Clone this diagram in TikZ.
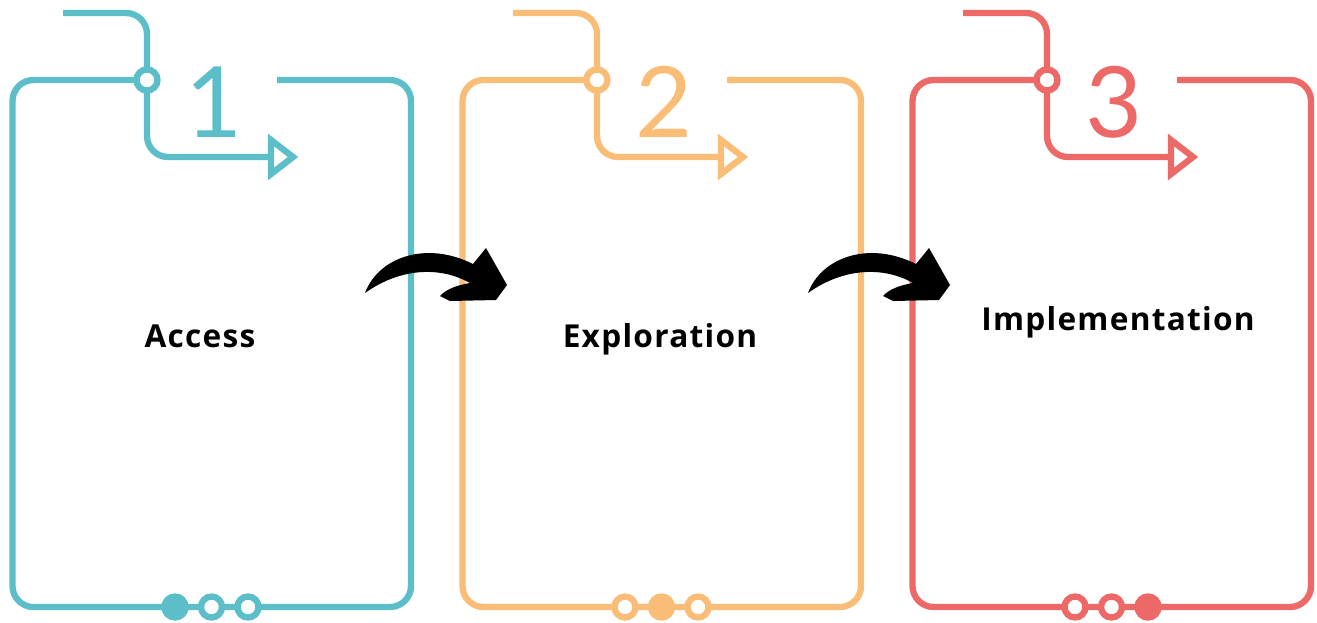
\documentclass[tikz,border=0pt]{standalone}
\usepackage{fontspec}
\setmainfont{Open Sans}
\newfontfamily\numfont{Lato}
\usetikzlibrary{calc}
\definecolor{stA}{HTML}{5BBEC9}
\definecolor{stB}{HTML}{F9BD77}
\definecolor{stC}{HTML}{EC6967}

\begin{document}
\begin{tikzpicture}[x=0.02cm,y=-0.02cm,every node/.style={inner sep=0pt},
  frame/.style={line width=3.6pt,rounded corners=0.42cm},
  dotring/.style={line width=3.6pt}]
  \useasboundingbox (0,0) rectangle (1317,622);
  \foreach \ox/\col/\num/\txt/\tx/\ty in {0/stA/1/Access/200/347,450/stB/2/Exploration/210/347,900/stC/3/Implementation/218/330}{
    \begin{scope}[shift={(\ox,0)}]
      \draw[\col,frame] (277,80) -| (411,607) -| (12.5,80) -- (147,80);
      \draw[\col,frame] (63,13) -| (147,80) |- (271,157);
      \draw[\col,line width=3.6pt,line join=miter] (271,140) -- (293,157) -- (271,174) -- cycle;
      \filldraw[dotring,fill=white,draw=\col] (147,80) circle (0.21cm);
      \foreach \k in {1,2,3}{
        \ifnum\k=\num\def\dfill{\col}\else\def\dfill{white}\fi
        \filldraw[dotring,fill=\dfill,draw=\col] ({175+36.5*(\k-1)},607) circle (0.21cm);}
      \node[\col,anchor=base,font=\numfont\fontsize{56}{56}\selectfont] (num\num) at (214,137) {\num};
      \node[anchor=base,font=\bfseries\fontsize{18}{18}\selectfont\addfontfeatures{LetterSpace=4}] (stage\num) at (\tx,\ty) {\txt};
    \end{scope}}
  % curved arrows between the panels
  \foreach \ax in {0,443}{
    \fill[black,shift={(\ax,0)}] (365,293) .. controls (378,258) and (425,240) .. (473,264)
      -- (486,248) -- (507,285) -- (496,300) -- (450,301) -- (440,296)
      .. controls (446,289) and (458,285) .. (470,283)
      .. controls (440,266) and (400,268) .. (365,293) -- cycle;}
\end{tikzpicture}
\end{document}
